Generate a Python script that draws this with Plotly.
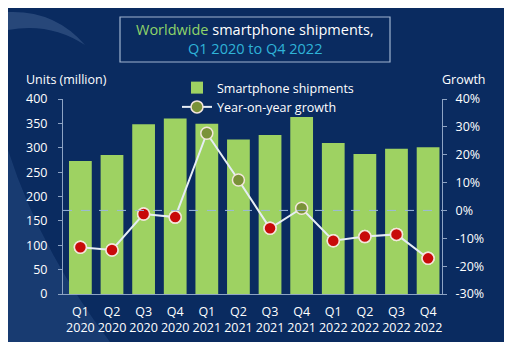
import plotly.graph_objects as go

quarters = ["Q1<br>2020", "Q2<br>2020", "Q3<br>2020", "Q4<br>2020",
            "Q1<br>2021", "Q2<br>2021", "Q3<br>2021", "Q4<br>2021",
            "Q1<br>2022", "Q2<br>2022", "Q3<br>2022", "Q4<br>2022"]
shipments = [273, 285, 348, 360, 349, 317, 326, 363, 310, 287, 298, 301]
growth = [-13.2, -14.2, -1.3, -2.4, 27.7, 10.9, -6.4, 0.8, -10.9, -9.4, -8.6, -17.2]
left_ticks = [0, 50, 100, 150, 200, 250, 300, 350, 400]
right_ticks = [-30, -20, -10, 0, 10, 20, 30, 40]

# page geometry (the page has an 8px body margin)
OFF = 8
PW, PH = 513, 355
W, H = PW - OFF, PH - OFF
L, R, T, B = 63, 442, 99, 294   # plot area in page pixels


def px(x):
    return (x - L) / (R - L)


def py(y):
    return (B - y) / (B - T)


GREEN = "#9ed262"
RED = "#c80a0a"
OLIVE = "#7a9238"
NAVY = "#0a2b60"
AXIS = "#8ea4c4"
FONT = "Open Sans"

neg_x = [q for q, g in zip(quarters, growth) if g < 0]
neg_y = [g for g in growth if g < 0]

fig = go.Figure()
fig.add_trace(go.Bar(
    x=quarters, y=shipments, name="Smartphone shipments",
    marker=dict(color=GREEN, line=dict(width=0)), yaxis="y",
))
fig.add_trace(go.Scatter(
    x=quarters, y=growth, name="Year-on-year growth", yaxis="y2",
    mode="lines+markers",
    line=dict(color="#e6edf5", width=2),
    marker=dict(size=12, color=OLIVE, line=dict(color="#f3e6dc", width=1.5)),
))
fig.add_trace(go.Scatter(
    x=neg_x, y=neg_y, yaxis="y2", mode="markers", showlegend=False, hoverinfo="skip",
    marker=dict(size=12, color=RED, line=dict(color="#f3e6dc", width=1.5)),
))

shapes = [
    # panel background
    dict(type="rect", xref="paper", yref="paper", x0=px(8), x1=px(504), y0=py(342), y1=py(4),
         fillcolor=NAVY, line=dict(width=0), layer="below"),
    # lower-left lighter swoosh
    dict(type="path", xref="paper", yref="paper", layer="below",
         path=f"M {px(8)},{py(150)} Q {px(40)},{py(250)} {px(110)},{py(342)} L {px(8)},{py(342)} Z",
         fillcolor="rgba(120,170,230,0.13)", line=dict(width=0)),
    # top-left swoosh
    dict(type="path", xref="paper", yref="paper", layer="below",
         path=f"M {px(8)},{py(12)} Q {px(55)},{py(10)} {px(85)},{py(45)} Q {px(50)},{py(22)} {px(8)},{py(30)} Z",
         fillcolor="rgba(170,200,240,0.18)", line=dict(width=0)),
    # title box
    dict(type="rect", xref="paper", yref="paper", x0=px(120), x1=px(390), y0=py(62), y1=py(17),
         fillcolor="rgba(0,0,0,0)", line=dict(color="#9fb4cf", width=1.2)),
    # zero growth dashed line
    dict(type="line", xref="paper", yref="y2", x0=0, x1=1, y0=0, y1=0,
         line=dict(color="#9cb8dc", width=1, dash="dash")),
]

annotations = [
    dict(xref="paper", yref="paper", x=px(255), y=py(30), showarrow=False,
         text="<span style='color:#8fd46a'>Worldwide</span> smartphone shipments,",
         font=dict(family=FONT, size=14.5, color="white"), xanchor="center", yanchor="middle"),
    dict(xref="paper", yref="paper", x=px(255), y=py(48), showarrow=False,
         text="Q1 2020 to Q4 2022",
         font=dict(family=FONT, size=14.5, color="#2fb3d8"), xanchor="center", yanchor="middle"),
    dict(xref="paper", yref="paper", x=px(24), y=py(80), showarrow=False,
         text="Units (million)", font=dict(family=FONT, size=12.5, color="white"),
         xanchor="left", yanchor="middle"),
    dict(xref="paper", yref="paper", x=px(488), y=py(80), showarrow=False,
         text="Growth", font=dict(family=FONT, size=12.5, color="white"),
         xanchor="right", yanchor="middle"),
]

fig.update_layout(
    width=W, height=H,
    margin=dict(l=L - OFF, r=PW - R, t=T - OFF, b=PH - B, pad=0),
    paper_bgcolor="white", plot_bgcolor="rgba(0,0,0,0)",
    font=dict(family=FONT, size=12, color="white"),
    bargap=0.28,
    showlegend=True,
    legend=dict(x=px(177), y=py(73), xanchor="left", yanchor="top",
                bgcolor="rgba(0,0,0,0)", font=dict(family=FONT, size=12.5, color="white"),
                itemwidth=30, tracegroupgap=0),
    xaxis=dict(range=[-0.55, 11.44], showgrid=False, showline=True, linecolor=AXIS, linewidth=1,
               tickfont=dict(family=FONT, size=12.5, color="white"), ticks="", ticklabelstandoff=6,
               tickangle=0, fixedrange=True),
    yaxis=dict(range=[0, 400], tickvals=left_ticks, showgrid=False, zeroline=False,
               showline=True, linecolor=AXIS, linewidth=1,
               ticks="outside", ticklen=4, tickcolor=AXIS, tickwidth=1,
               ticklabelstandoff=8, tickfont=dict(family=FONT, size=12.5, color="white")),
    yaxis2=dict(range=[-30, 40], tickvals=right_ticks, ticktext=[f"{v}%" for v in right_ticks],
                overlaying="y", side="right",
                showgrid=False, zeroline=False, showline=True, linecolor=AXIS, linewidth=1,
                ticks="outside", ticklen=4, tickcolor=AXIS, tickwidth=1,
                ticklabelstandoff=6, tickfont=dict(family=FONT, size=12.5, color="white")),
    shapes=shapes, annotations=annotations,
)

fig.write_html("out.html")
